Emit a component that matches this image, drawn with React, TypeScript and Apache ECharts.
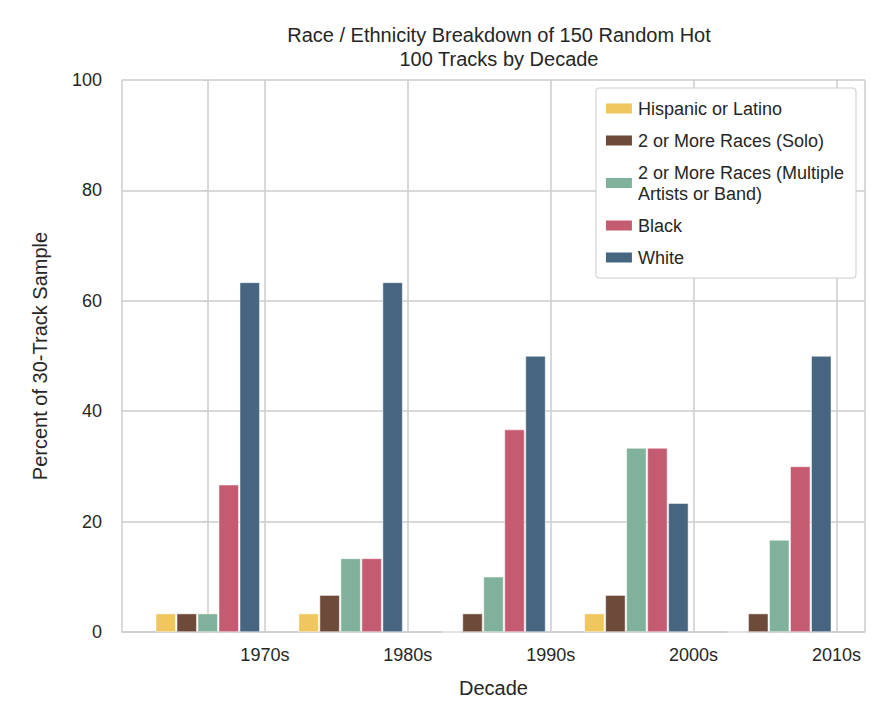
import React, { useEffect, useRef } from 'react';
import * as echarts from 'echarts';

const decades = ['1970s', '1980s', '1990s', '2000s', '2010s'];
const hispanic = [3.33, 3.33, 0, 3.33, 0];
const multiSolo = [3.33, 6.67, 3.33, 6.67, 3.33];
const multiBand = [3.33, 13.33, 10, 33.33, 16.67];
const black = [26.67, 13.33, 36.67, 33.33, 30];
const white = [63.33, 63.33, 50, 23.33, 50];

const names = [
    'Hispanic or Latino',
    '2 or More Races (Solo)',
    '2 or More Races (Multiple\nArtists or Band)',
    'Black',
    'White'
];
const colors = ['#f0c75e', '#6e4a3a', '#80b29b', '#c45b70', '#466580'];
const values = [hispanic, multiSolo, multiBand, black, white];

const App = () => {
    const chartRef = useRef<HTMLDivElement>(null);

    useEffect(() => {
        if (!chartRef.current) return;
        const myChart = echarts.init(chartRef.current, null, { renderer: 'svg' });
        const font = 'Liberation Sans';
        myChart.setOption({
            animation: false,
            textStyle: { fontFamily: font, color: '#333' },
            title: {
                text: 'Race / Ethnicity Breakdown of 150 Random Hot\n100 Tracks by Decade',
                left: 494, top: 18, textAlign: 'center',
                textStyle: { fontSize: 20, fontWeight: 'normal', color: '#262626', lineHeight: 24, fontFamily: font }
            },
            legend: {
                orient: 'vertical',
                right: 36, top: 88,
                padding: [10, 12, 10, 8],
                itemGap: 11,
                itemWidth: 28, itemHeight: 12,
                icon: 'rect',
                borderColor: '#ccc', borderWidth: 1, borderRadius: 3,
                backgroundColor: '#fff',
                textStyle: { fontSize: 18, color: '#262626', lineHeight: 21, fontFamily: font },
                data: names
            },
            grid: { left: 122, right: 27, top: 80, bottom: 77 },
            xAxis: {
                type: 'value', min: -0.6, max: 4.6, interval: 1,
                name: 'Decade', nameLocation: 'middle', nameGap: 46,
                nameTextStyle: { fontSize: 20, color: '#262626' },
                axisTick: { show: false },
                axisLine: { show: true, lineStyle: { color: '#ccc', width: 1.5 } },
                axisLabel: {
                    fontSize: 18, color: '#262626', margin: 14,
                    showMinLabel: false, showMaxLabel: false,
                    formatter: (v: number) => decades[Math.round(v)] ?? ''
                },
                splitLine: { show: true, lineStyle: { color: '#ccc', width: 1.5 } }
            },
            yAxis: {
                type: 'value', min: 0, max: 100, interval: 20,
                name: 'Percent of 30-Track Sample', nameLocation: 'middle', nameGap: 72,
                nameTextStyle: { fontSize: 20, color: '#262626' },
                axisLine: { show: true, lineStyle: { color: '#ccc', width: 1.5 } },
                axisLabel: { fontSize: 18, color: '#262626', margin: 20 },
                splitLine: { lineStyle: { color: '#ccc', width: 1.5 } }
            },
            series: names.map((n, i) => ({
                name: n,
                type: 'bar',
                data: values[i].map((v, j) => [j, v]),
                barWidth: 20,
                barGap: '5%',
                itemStyle: { color: colors[i], borderColor: '#fff', borderWidth: 0.5 }
            }))
        });
        return () => {
            myChart.dispose();
        };
    }, []);

    return <div ref={chartRef} style={{ position: 'fixed', left: 0, top: 0, width: '892px', height: '709px', background: '#fff' }} />;
};

export default App;
